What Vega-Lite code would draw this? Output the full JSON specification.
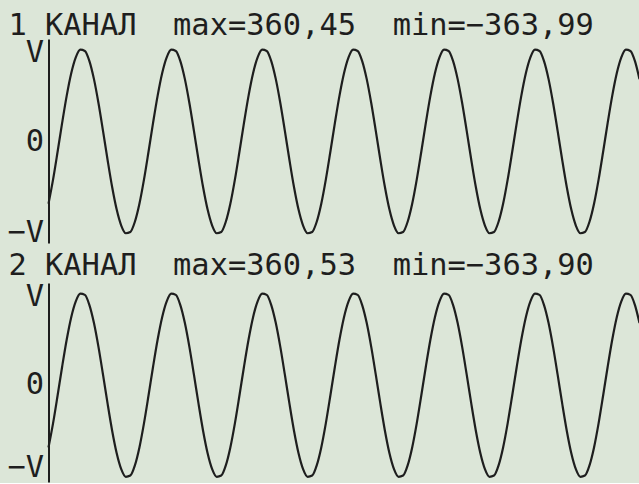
{
  "$schema": "https://vega.github.io/schema/vega-lite/v6.json",
  "background": "#dce6d8",
  "padding": {"left": 6.5, "top": 10, "right": 0, "bottom": 0},
  "data": {"values": [
    {"t":0,"c1":-246.2,"c2":-246.1},{"t":1,"c1":-151.6,"c2":-151.5},{"t":2,"c1":-42.3,"c2":-42.2},{"t":3,"c1":70.9,"c2":71.0},{"t":4,"c1":176.9,"c2":177.0},
    {"t":5,"c1":265.6,"c2":265.7},{"t":6,"c1":328.0,"c2":328.1},{"t":7,"c1":358.2,"c2":358.3},{"t":8,"c1":353.1,"c2":353.2},{"t":9,"c1":313.3,"c2":313.4},
    {"t":10,"c1":242.6,"c2":242.7},{"t":11,"c1":148.0,"c2":148.1},{"t":12,"c1":38.8,"c2":38.9},{"t":13,"c1":-74.4,"c2":-74.3},{"t":14,"c1":-180.5,"c2":-180.4},
    {"t":15,"c1":-269.1,"c2":-269.0},{"t":16,"c1":-331.5,"c2":-331.4},{"t":17,"c1":-361.7,"c2":-361.6},{"t":18,"c1":-356.6,"c2":-356.5},{"t":19,"c1":-316.8,"c2":-316.7},
    {"t":20,"c1":-246.2,"c2":-246.1},{"t":21,"c1":-151.6,"c2":-151.5},{"t":22,"c1":-42.3,"c2":-42.2},{"t":23,"c1":70.9,"c2":71.0},{"t":24,"c1":176.9,"c2":177.0},
    {"t":25,"c1":265.6,"c2":265.7},{"t":26,"c1":328.0,"c2":328.1},{"t":27,"c1":358.2,"c2":358.3},{"t":28,"c1":353.1,"c2":353.2},{"t":29,"c1":313.3,"c2":313.4},
    {"t":30,"c1":242.6,"c2":242.7},{"t":31,"c1":148.0,"c2":148.1},{"t":32,"c1":38.8,"c2":38.9},{"t":33,"c1":-74.4,"c2":-74.3},{"t":34,"c1":-180.5,"c2":-180.4},
    {"t":35,"c1":-269.1,"c2":-269.0},{"t":36,"c1":-331.5,"c2":-331.4},{"t":37,"c1":-361.7,"c2":-361.6},{"t":38,"c1":-356.6,"c2":-356.5},{"t":39,"c1":-316.8,"c2":-316.7},
    {"t":40,"c1":-246.2,"c2":-246.1},{"t":41,"c1":-151.6,"c2":-151.5},{"t":42,"c1":-42.3,"c2":-42.2},{"t":43,"c1":70.9,"c2":71.0},{"t":44,"c1":176.9,"c2":177.0},
    {"t":45,"c1":265.6,"c2":265.7},{"t":46,"c1":328.0,"c2":328.1},{"t":47,"c1":358.2,"c2":358.3},{"t":48,"c1":353.1,"c2":353.2},{"t":49,"c1":313.3,"c2":313.4},
    {"t":50,"c1":242.6,"c2":242.7},{"t":51,"c1":148.0,"c2":148.1},{"t":52,"c1":38.8,"c2":38.9},{"t":53,"c1":-74.4,"c2":-74.3},{"t":54,"c1":-180.5,"c2":-180.4},
    {"t":55,"c1":-269.1,"c2":-269.0},{"t":56,"c1":-331.5,"c2":-331.4},{"t":57,"c1":-361.7,"c2":-361.6},{"t":58,"c1":-356.6,"c2":-356.5},{"t":59,"c1":-316.8,"c2":-316.7},
    {"t":60,"c1":-246.2,"c2":-246.1},{"t":61,"c1":-151.6,"c2":-151.5},{"t":62,"c1":-42.3,"c2":-42.2},{"t":63,"c1":70.9,"c2":71.0},{"t":64,"c1":176.9,"c2":177.0},
    {"t":65,"c1":265.6,"c2":265.7},{"t":66,"c1":328.0,"c2":328.1},{"t":67,"c1":358.2,"c2":358.3},{"t":68,"c1":353.1,"c2":353.2},{"t":69,"c1":313.3,"c2":313.4},
    {"t":70,"c1":242.6,"c2":242.7},{"t":71,"c1":148.0,"c2":148.1},{"t":72,"c1":38.8,"c2":38.9},{"t":73,"c1":-74.4,"c2":-74.3},{"t":74,"c1":-180.5,"c2":-180.4},
    {"t":75,"c1":-269.1,"c2":-269.0},{"t":76,"c1":-331.5,"c2":-331.4},{"t":77,"c1":-361.7,"c2":-361.6},{"t":78,"c1":-356.6,"c2":-356.5},{"t":79,"c1":-316.8,"c2":-316.7},
    {"t":80,"c1":-246.2,"c2":-246.1},{"t":81,"c1":-151.6,"c2":-151.5},{"t":82,"c1":-42.3,"c2":-42.2},{"t":83,"c1":70.9,"c2":71.0},{"t":84,"c1":176.9,"c2":177.0},
    {"t":85,"c1":265.6,"c2":265.7},{"t":86,"c1":328.0,"c2":328.1},{"t":87,"c1":358.2,"c2":358.3},{"t":88,"c1":353.1,"c2":353.2},{"t":89,"c1":313.3,"c2":313.4},
    {"t":90,"c1":242.6,"c2":242.7},{"t":91,"c1":148.0,"c2":148.1},{"t":92,"c1":38.8,"c2":38.9},{"t":93,"c1":-74.4,"c2":-74.3},{"t":94,"c1":-180.5,"c2":-180.4},
    {"t":95,"c1":-269.1,"c2":-269.0},{"t":96,"c1":-331.5,"c2":-331.4},{"t":97,"c1":-361.7,"c2":-361.6},{"t":98,"c1":-356.6,"c2":-356.5},{"t":99,"c1":-316.8,"c2":-316.7},
    {"t":100,"c1":-246.2,"c2":-246.1},{"t":101,"c1":-151.6,"c2":-151.5},{"t":102,"c1":-42.3,"c2":-42.2},{"t":103,"c1":70.9,"c2":71.0},{"t":104,"c1":176.9,"c2":177.0},
    {"t":105,"c1":265.6,"c2":265.7},{"t":106,"c1":328.0,"c2":328.1},{"t":107,"c1":358.2,"c2":358.3},{"t":108,"c1":353.1,"c2":353.2},{"t":109,"c1":313.3,"c2":313.4},
    {"t":110,"c1":242.6,"c2":242.7},{"t":111,"c1":148.0,"c2":148.1},{"t":112,"c1":38.8,"c2":38.9},{"t":113,"c1":-74.4,"c2":-74.3},{"t":114,"c1":-180.5,"c2":-180.4},
    {"t":115,"c1":-269.1,"c2":-269.0},{"t":116,"c1":-331.5,"c2":-331.4},{"t":117,"c1":-361.7,"c2":-361.6},{"t":118,"c1":-356.6,"c2":-356.5},{"t":119,"c1":-316.8,"c2":-316.7},
    {"t":120,"c1":-246.2,"c2":-246.1},{"t":121,"c1":-151.6,"c2":-151.5},{"t":122,"c1":-42.3,"c2":-42.2},{"t":123,"c1":70.9,"c2":71.0},{"t":124,"c1":176.9,"c2":177.0},
    {"t":125,"c1":265.6,"c2":265.7},{"t":126,"c1":328.0,"c2":328.1},{"t":127,"c1":358.2,"c2":358.3},{"t":128,"c1":353.1,"c2":353.2},{"t":129,"c1":313.3,"c2":313.4},
    {"t":130,"c1":242.6,"c2":242.7}
  ]},
  "config": {
    "view": {"stroke": null},
    "font": "DejaVu Sans Mono",
    "title": {"font": "DejaVu Sans Mono", "fontSize": 30.4, "fontWeight": "normal", "color": "#1e1e1e", "anchor": "start", "frame": "bounds", "baseline": "alphabetic", "dx": 1.5},
    "axisY": {"labelFont": "DejaVu Sans Mono", "labelFontSize": 30.4, "labelColor": "#1e1e1e", "ticks": false, "grid": false, "domainColor": "#1e1e1e", "domainWidth": 2, "labelPadding": 5, "labelOverlap": false, "labelBound": false}
  },
  "spacing": 1,
  "vconcat": [
    {
      "title": {"text": "1 КАНАЛ\u00a0\u00a0max=360,45\u00a0\u00a0min=−363,99", "offset": -4},
      "width": 591,
      "height": 204,
      "mark": {"type": "line", "interpolate": "monotone", "color": "#1e1e1e", "strokeWidth": 2.2},
      "encoding": {
        "x": {"field": "t", "type": "quantitative", "scale": {"domain": [0, 130]}, "axis": null},
        "y": {"field": "c1", "type": "quantitative", "scale": {"domain": [-400, 400]}, "axis": {"title": null, "values": [348, 0, -360], "labelFlush": false, "labelExpr": "datum.value > 0 ? 'V' : datum.value < 0 ? '−V' : '0'"}}
      }
    },
    {
      "title": {"text": "2 КАНАЛ\u00a0\u00a0max=360,53\u00a0\u00a0min=−363,90", "offset": 0},
      "width": 591,
      "height": 199,
      "mark": {"type": "line", "interpolate": "monotone", "color": "#1e1e1e", "strokeWidth": 2.2},
      "encoding": {
        "x": {"field": "t", "type": "quantitative", "scale": {"domain": [0, 130]}, "axis": null},
        "y": {"field": "c2", "type": "quantitative", "scale": {"domain": [-382, 400]}, "axis": {"title": null, "values": [348, 0, -360], "labelFlush": 8, "labelFlushOffset": 6, "labelExpr": "datum.value > 0 ? 'V' : datum.value < 0 ? '−V' : '0'"}}
      }
    }
  ]
}
